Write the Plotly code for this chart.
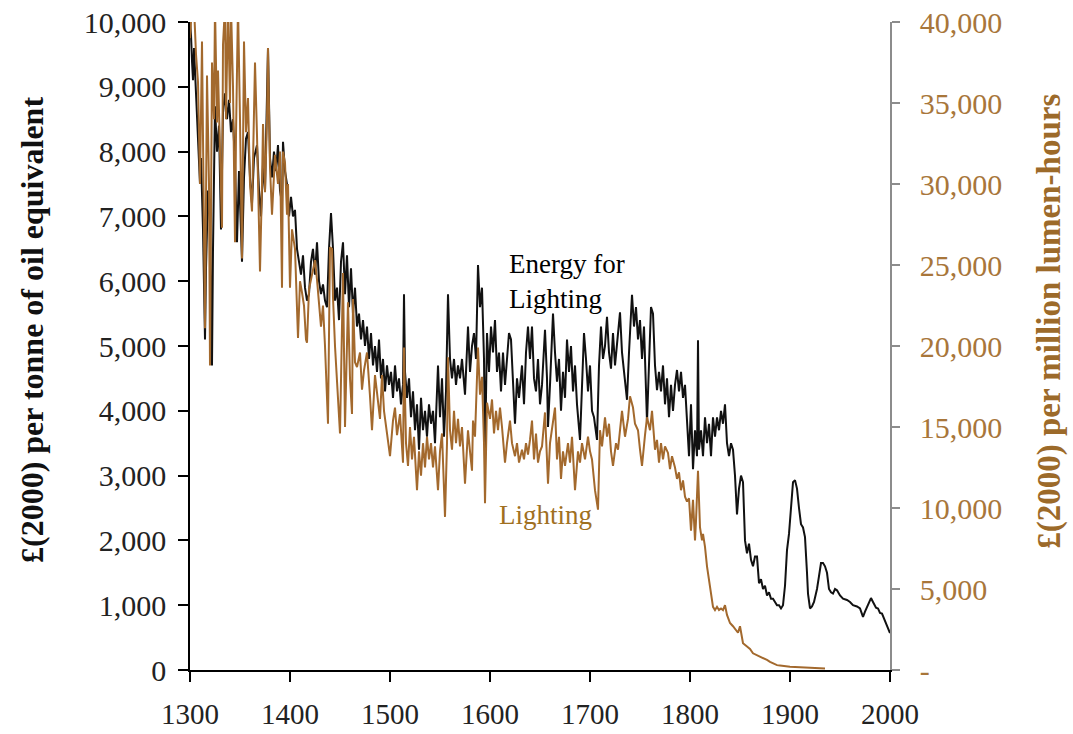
import plotly.graph_objects as go

# ---- Energy for Lighting (left axis, £(2000) per tonne of oil equivalent) ----
energy_years = [
    1300, 1301, 1302, 1303, 1304, 1306, 1308, 1310, 1311, 1313, 1315, 1316, 1318, 1320, 1322, 1323,
    1325, 1327, 1329, 1331, 1333, 1335, 1337, 1339, 1341, 1343, 1345, 1347, 1349, 1352, 1354, 1356,
    1358, 1360, 1362, 1364, 1367, 1369, 1371, 1373, 1375, 1378, 1380, 1382, 1384, 1386, 1388, 1390,
    1392, 1393, 1395, 1397, 1399, 1401, 1403, 1405, 1407, 1409, 1411, 1413, 1415, 1417, 1419, 1421,
    1423, 1425, 1427, 1429, 1431, 1433, 1435, 1437, 1439, 1441, 1443, 1445, 1447, 1449, 1451, 1453,
    1455, 1457, 1459, 1461, 1463, 1465, 1467, 1469, 1471, 1473, 1475, 1477, 1479, 1481, 1483, 1485,
    1487, 1489, 1491, 1493, 1495, 1497, 1499, 1501, 1503, 1505, 1507, 1509, 1511, 1513, 1514, 1515,
    1517, 1519, 1521, 1523, 1525, 1527, 1529, 1531, 1533, 1535, 1537, 1539, 1541, 1543, 1545, 1548,
    1550, 1552, 1554, 1556, 1558, 1560, 1562, 1564, 1566, 1568, 1570, 1572, 1575, 1578, 1580, 1582,
    1584, 1586, 1588, 1590, 1592, 1594, 1595, 1597, 1599, 1601, 1603, 1605, 1607, 1609, 1611, 1613,
    1615, 1617, 1619, 1621, 1623, 1625, 1627, 1629, 1632, 1634, 1636, 1638, 1640, 1642, 1644, 1646,
    1648, 1650, 1652, 1655, 1657, 1658, 1660, 1663, 1665, 1667, 1669, 1671, 1673, 1675, 1677, 1679,
    1681, 1683, 1685, 1687, 1690, 1692, 1694, 1696, 1698, 1700, 1702, 1704, 1707, 1709, 1711, 1713,
    1715, 1717, 1719, 1721, 1723, 1725, 1727, 1730, 1732, 1734, 1737, 1739, 1742, 1744, 1746, 1748,
    1750, 1752, 1754, 1757, 1759, 1761, 1763, 1765, 1767, 1769, 1771, 1773, 1775, 1777, 1779, 1781,
    1783, 1785, 1787, 1789, 1791, 1793, 1795, 1797, 1799, 1801, 1803, 1805, 1807, 1808, 1809, 1811,
    1813, 1815, 1817, 1819, 1821, 1823, 1825, 1827, 1829, 1831, 1833, 1835, 1837, 1839, 1841, 1843,
    1845, 1847, 1849, 1851, 1853, 1855, 1857, 1859, 1861, 1863, 1865, 1867, 1869, 1871, 1873, 1875,
    1877, 1879, 1881, 1883, 1885, 1887, 1889, 1891, 1893, 1895, 1897, 1899, 1901, 1903, 1905, 1907,
    1909, 1911, 1913, 1915, 1917, 1918, 1920, 1922, 1924, 1927, 1929, 1931, 1933, 1935, 1937, 1939,
    1941, 1943, 1945, 1947, 1950, 1953, 1957, 1960, 1963, 1967, 1970, 1973, 1975, 1978, 1981, 1983,
    1986, 1988, 1990, 1992, 1995, 1998, 2000,
]
energy_values = [
    10000, 9800, 9400, 9100, 9600, 8900, 8300, 7500, 7900, 6800, 5100, 6200, 7400, 6900, 4700, 6500,
    8700, 8000, 8400, 6800, 8600, 8900, 8500, 8800, 8300, 8500, 7800, 6600, 7700, 6300, 7600, 8200,
    8300, 7600, 7200, 7900, 8100, 7400, 7000, 7800, 7400, 9600, 7900, 7600, 8000, 7700, 8100, 7400,
    7200, 8150, 7700, 7500, 7000, 7300, 7000, 7100, 6500, 6300, 6100, 6400, 5900, 5700, 5800, 6300,
    6500, 6100, 6600, 6000, 5800, 5950, 5700, 5600, 6500, 7050, 6500, 5700, 5900, 5400, 6300, 6600,
    5800, 6400, 5600, 6200, 5500, 5900, 5300, 5500, 5100, 5400, 5000, 5300, 4800, 5200, 4700, 5000,
    4600, 5100, 4500, 4800, 4300, 4700, 4400, 4600, 4200, 4700, 4300, 4500, 4100, 4400, 5800, 4600,
    4200, 4500, 3900, 4300, 3700, 4100, 3400, 4200, 3700, 4000, 3600, 4100, 3800, 4000, 3500, 4700,
    3900, 4500, 3600, 4300, 5800, 4800, 4500, 4800, 4400, 4700, 4500, 4800, 4250, 5300, 4600, 5000,
    5200, 4800, 6250, 5600, 5900, 4800, 3250, 5200, 4600, 5300, 4900, 5400, 4600, 4900, 4300, 4900,
    4400, 4800, 5200, 5100, 4300, 3800, 4500, 4200, 4700, 4100, 4900, 5300, 4800, 5300, 4500, 4300,
    4800, 4100, 4400, 5250, 4500, 3750, 4400, 5500, 4900, 4450, 4800, 4000, 4600, 4200, 5100, 4600,
    5000, 4300, 4700, 4100, 3550, 4500, 5200, 4800, 4300, 4700, 4000, 3900, 3550, 4700, 5300, 4800,
    5000, 5450, 4900, 4650, 5200, 4700, 5000, 5520, 4900, 4600, 4170, 4900, 5790, 5300, 5600, 5100,
    5400, 4800, 5300, 3830, 4700, 5600, 5500, 4700, 4320, 4600, 4300, 4700, 4100, 4500, 3900, 4400,
    4000, 4400, 4630, 4300, 4600, 4200, 4400, 3800, 3300, 4100, 3100, 3700, 3300, 5090, 3400, 3700,
    3300, 3900, 3500, 3800, 3300, 3900, 3600, 3900, 3700, 4000, 3800, 4100, 3500, 3300, 3500, 3400,
    3000, 2400, 2800, 3000, 2900, 2000, 1800, 1950, 1700, 1600, 1750, 1750, 1340, 1400, 1250, 1300,
    1150, 1200, 1100, 1100, 1050, 1000, 1000, 950, 1000, 1300, 1850, 2100, 2500, 2900, 2930, 2800,
    2500, 2250, 2200, 2050, 1500, 1180, 950, 980, 1050, 1250, 1450, 1650, 1650, 1600, 1500, 1250,
    1200, 1180, 1250, 1230, 1150, 1100, 1080, 1050, 1000, 980, 950, 820, 900, 1000, 1110, 1050,
    960, 950, 880, 870, 760, 650, 570,
]

# ---- Lighting (right axis, £(2000) per million lumen-hours) ----
lighting_years = [
    1300, 1302, 1304, 1306, 1308, 1310, 1312, 1313, 1315, 1317, 1319, 1320, 1322, 1324, 1325, 1327,
    1328, 1330, 1332, 1333, 1335, 1336, 1338, 1340, 1341, 1343, 1345, 1346, 1348, 1350, 1352, 1354,
    1356, 1358, 1360, 1362, 1365, 1367, 1368, 1370, 1372, 1373, 1375, 1377, 1378, 1380, 1382, 1385,
    1388, 1390, 1392, 1393, 1395, 1397, 1398, 1400, 1402, 1405, 1408, 1410, 1412, 1414, 1416, 1417,
    1419, 1421, 1423, 1425, 1427, 1429, 1431, 1433, 1435, 1438, 1440, 1442, 1443, 1445, 1447, 1450,
    1453, 1455, 1458, 1460, 1462, 1463, 1465, 1467, 1470, 1472, 1474, 1477, 1480, 1482, 1485, 1488,
    1490, 1492, 1494, 1497, 1500, 1503, 1505, 1507, 1510, 1513, 1514, 1516, 1518, 1520, 1522, 1524,
    1527, 1529, 1531, 1533, 1535, 1537, 1539, 1541, 1543, 1545, 1548, 1550, 1552, 1555, 1557, 1558,
    1560, 1562, 1564, 1566, 1568, 1570, 1572, 1575, 1578, 1580, 1582, 1583, 1585, 1588, 1590, 1592,
    1594, 1595, 1597, 1600, 1602, 1604, 1606, 1608, 1610, 1612, 1615, 1617, 1620, 1622, 1625, 1627,
    1629, 1632, 1634, 1636, 1638, 1640, 1642, 1644, 1646, 1648, 1650, 1652, 1655, 1657, 1658, 1660,
    1663, 1665, 1667, 1669, 1671, 1673, 1675, 1678, 1680, 1682, 1685, 1688, 1690, 1692, 1695, 1698,
    1700, 1702, 1705, 1708, 1710, 1712, 1715, 1717, 1719, 1721, 1723, 1726, 1728, 1730, 1732, 1735,
    1738, 1740, 1743, 1745, 1748, 1750, 1752, 1755, 1757, 1760, 1762, 1765, 1767, 1769, 1771, 1773,
    1775, 1778, 1780, 1782, 1785, 1787, 1789, 1791, 1793, 1795, 1797, 1799, 1801, 1803, 1805, 1806,
    1808, 1810, 1812, 1813, 1815, 1817, 1819, 1820, 1822, 1823, 1825, 1827, 1829, 1831, 1833, 1835,
    1837, 1840, 1843, 1846, 1848, 1850, 1852, 1853, 1857, 1860, 1863, 1866, 1870, 1873, 1877, 1880,
    1884, 1887, 1890, 1895, 1900, 1905, 1910, 1917, 1925, 1935,
]
lighting_values = [
    39000, 41000, 41000, 38000, 36300, 30000, 38800, 32200, 21100, 36700, 30000, 18800, 37500, 34000, 41000, 33800,
    37000, 32000, 27300, 38600, 41000, 34000, 41000, 35000, 41000, 36000, 26400, 33000, 41000, 34000, 25400, 38800,
    33200, 35300, 30000, 28300, 37500, 33000, 30000, 24600, 30000, 33700, 29500, 34000, 38400, 31000, 28100, 31800,
    30000, 32000, 23600, 32000, 31300, 28100, 30000, 23600, 27200, 26000, 20500, 24000, 23300, 22500, 20400, 20200,
    23500, 24100, 24900, 25300, 24100, 22800, 21200, 22500, 20000, 15200, 26100, 26000, 23000, 20000, 18100, 14600,
    24500, 15000, 22700, 18000, 15800, 22900, 19000, 18700, 19600, 17300, 18500, 19600, 16900, 14800, 18200, 16500,
    15500, 18200, 16000, 14600, 13200, 15400, 16200, 14500, 15800, 12800, 19900, 14000, 12600, 15000, 13000, 14400,
    11100, 13500, 12000, 14000, 12500, 14400, 13000, 14000, 12500, 13800, 11100, 13500, 14600, 9450, 14000, 19300,
    14800, 13600, 16000, 14000, 15500, 13800, 15000, 11500, 14800, 13500, 12300, 15400, 14400, 19900, 17000, 18100,
    14000, 10300, 16500, 15500, 16700, 14600, 16000, 14800, 16200, 15000, 12800, 14000, 15400, 14000, 13200, 14000,
    12800, 13600, 13000, 14000, 13300, 14200, 15400, 13000, 14600, 12800, 13500, 13800, 15900, 13000, 11500, 14000,
    15500, 16200, 13000, 14400, 11800, 13500, 12600, 14000, 12800, 14400, 11100, 13500, 12800, 14000, 13000, 14400,
    13500, 13000, 11100, 9900, 14800, 13800, 15600, 14400, 15200, 13500, 12600, 14000, 13600, 14800, 16000, 14400,
    15500, 16900, 16200, 15200, 14800, 13600, 12600, 14500, 15600, 14800, 16000, 13600, 14200, 12800, 14000, 13000,
    13800, 13400, 12400, 13200, 12500, 11800, 12200, 11100, 11700, 10700, 10400, 10600, 8600, 10500, 8000, 9200,
    12300, 8800, 8000, 8400, 7600, 6400, 5600, 4900, 4200, 3900, 3700, 3900, 3700, 3800, 3700, 4000,
    3400, 2900, 2700, 2500, 2300, 2700, 2100, 1650, 1450, 1300, 1030, 950, 820, 750, 620, 500,
    400, 300, 280, 220, 200, 180, 160, 150, 120, 100,
]

left_ticks = [0, 1000, 2000, 3000, 4000, 5000, 6000, 7000, 8000, 9000, 10000]
right_ticks = [0, 5000, 10000, 15000, 20000, 25000, 30000, 35000, 40000]
right_tick_text = ["-", "5,000", "10,000", "15,000", "20,000", "25,000", "30,000", "35,000", "40,000"]
x_ticks = [1300, 1400, 1500, 1600, 1700, 1800, 1900, 2000]

BLACK = "#111111"
BROWN = "#A3692D"
BROWN_TEXT = "#A0701F"
FONT = "Liberation Serif"
NB = "&nbsp;"

fig = go.Figure()
fig.add_trace(go.Scatter(
    x=energy_years, y=energy_values, mode="lines", name="Energy for Lighting",
    line=dict(color=BLACK, width=2), yaxis="y",
))
fig.add_trace(go.Scatter(
    x=lighting_years, y=lighting_values, mode="lines", name="Lighting",
    line=dict(color=BROWN, width=2), yaxis="y2",
))

fig.update_layout(
    width=1073, height=734,
    margin=dict(l=190, r=183, t=22, b=64, autoexpand=False),
    paper_bgcolor="white", plot_bgcolor="white",
    showlegend=False,
    font=dict(family=FONT, size=30, color="#222222"),
    xaxis=dict(
        range=[1300, 2000], tickvals=x_ticks, showgrid=False, zeroline=False,
        showline=True, linecolor="black", linewidth=1.5, automargin=False,
        ticks="outside", ticklen=10, tickcolor="black", tickwidth=1.5,
        ticklabelstandoff=7, ticklabeloverflow="allow",
        tickfont=dict(family=FONT, size=29, color="#222222"),
    ),
    yaxis=dict(
        range=[0, 10000], tickvals=left_ticks, tickformat=",d", showgrid=False, zeroline=False,
        showline=True, linecolor="black", linewidth=1.5, automargin=False,
        ticks="outside", ticklen=10, tickcolor="black", tickwidth=1.5,
        ticklabelstandoff=6, ticklabeloverflow="allow",
        tickfont=dict(family=FONT, size=30, color="#222222"),
        title=dict(text=NB * 4 + "<b>£(2000) per tonne of oil equivalent</b>",
                   font=dict(family=FONT, size=32, color="#111111"), standoff=31),
    ),
    yaxis2=dict(
        range=[0, 40000], tickvals=right_ticks, ticktext=right_tick_text,
        overlaying="y", side="right", showgrid=False, zeroline=False,
        showline=True, linecolor="#8c8c8c", linewidth=1.5, automargin=False,
        ticks="outside", ticklen=8, tickcolor="#8c8c8c", tickwidth=1.5,
        ticklabelstandoff=14, ticklabeloverflow="allow",
        tickfont=dict(family=FONT, size=30, color="#A8763A"),
        title=dict(text=NB * 6 + "<b>£(2000) per million lumen-hours</b>",
                   font=dict(family=FONT, size=33, color="#9C6A2A"), standoff=36),
    ),
    annotations=[
        dict(text="Energy for<br>Lighting", xref="paper", yref="paper",
             x=0.453, y=0.600, xanchor="left", yanchor="middle", align="left",
             showarrow=False, font=dict(family=FONT, size=27, color="black")),
        dict(text="Lighting", xref="paper", yref="paper",
             x=0.438, y=0.239, xanchor="left", yanchor="middle", align="left",
             showarrow=False, font=dict(family=FONT, size=27, color=BROWN_TEXT)),
    ],
)

# remove the default 8px page margin so the figure fills the window exactly
fig.write_html("out.html",
               config={"displayModeBar": False},
               post_script="document.body.style.margin='0';document.body.style.overflow='hidden';")
